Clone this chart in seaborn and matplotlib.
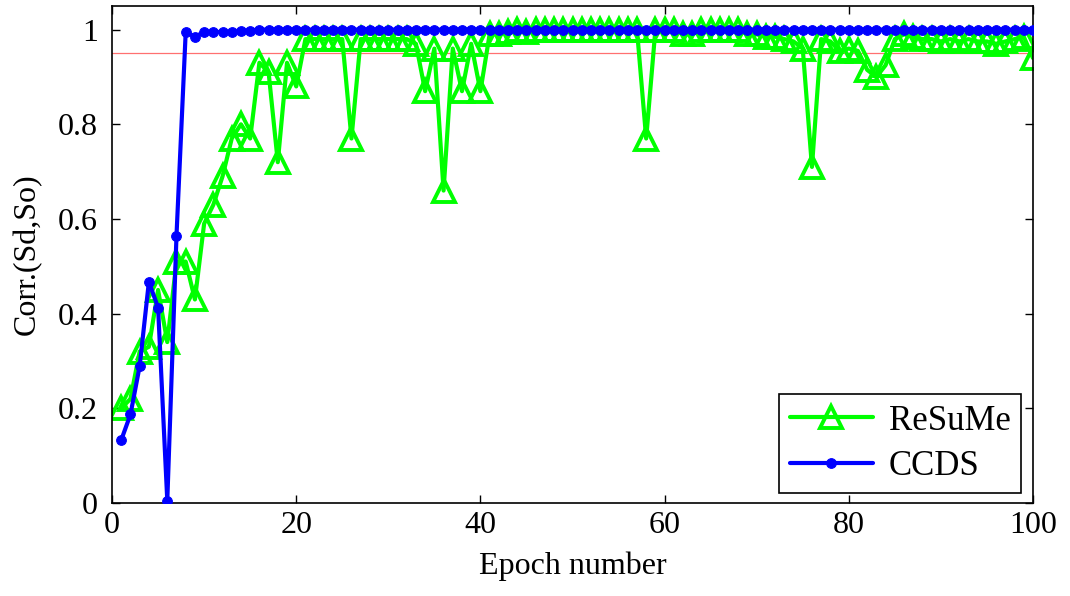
import numpy as np
import pandas as pd
import matplotlib
matplotlib.use("Agg")
import matplotlib.pyplot as plt
import seaborn as sns

epochs = list(range(1, 101))

resume = [
    0.20, 0.22, 0.32, 0.33, 0.45, 0.34, 0.51, 0.51, 0.43, 0.59,
    0.63, 0.69, 0.77, 0.80, 0.77, 0.93, 0.91, 0.72, 0.93, 0.88,
    0.98, 0.98, 0.98, 0.98, 0.98, 0.77, 0.98, 0.98, 0.98, 0.98,
    0.98, 0.98, 0.97, 0.87, 0.96, 0.66, 0.96, 0.87, 0.97, 0.87,
    0.99, 0.99, 0.995, 1.00, 0.995, 1.00, 1.00, 1.00, 1.00, 1.00,
    1.00, 1.00, 1.00, 1.00, 1.00, 1.00, 1.00, 0.77, 1.00, 1.00,
    1.00, 0.99, 0.99, 1.00, 1.00, 1.00, 1.00, 1.00, 0.99, 0.99,
    0.985, 0.985, 0.98, 0.975, 0.96, 0.71, 0.98, 0.975, 0.955, 0.96,
    0.955, 0.915, 0.90, 0.925, 0.98, 0.99, 0.985, 0.98, 0.98, 0.975,
    0.98, 0.975, 0.98, 0.975, 0.975, 0.97, 0.975, 0.98, 0.985, 0.94,
]

ccds = [
    0.133, 0.187, 0.289, 0.467, 0.413, 0.005, 0.565, 0.995, 0.985, 0.995,
    0.995, 0.995, 0.995, 0.997, 0.998,
] + [1.0] * 85

threshold = 0.95

x_ticks = [0, 20, 40, 60, 80, 100]
y_ticks = [0, 0.2, 0.4, 0.6, 0.8, 1.0]
y_tick_labels = ["0", "0.2", "0.4", "0.6", "0.8", "1"]

df = pd.DataFrame({"epoch": epochs, "ReSuMe": resume, "CCDS": ccds})

sns.set_style("ticks")
plt.rcParams["font.family"] = ["Liberation Serif", "DejaVu Serif"]
plt.rcParams["text.color"] = "black"
plt.rcParams["axes.labelcolor"] = "black"
plt.rcParams["xtick.color"] = "black"
plt.rcParams["ytick.color"] = "black"

fig = plt.figure(figsize=(10.70, 5.96), dpi=100)
ax = fig.add_axes([0.1047, 0.156, 0.8607, 0.834])

ax.axhline(threshold, color="#ff4040", lw=0.9, alpha=0.75, zorder=1)

sns.lineplot(data=df, x="epoch", y="ReSuMe", ax=ax, color="#00ff00",
             lw=3, marker="^", markersize=16, markerfacecolor="none",
             markeredgecolor="#00ff00", markeredgewidth=2.8, label="ReSuMe",
             zorder=2)
sns.lineplot(data=df, x="epoch", y="CCDS", ax=ax, color="#0000ff",
             lw=3, marker="o", markersize=7, markerfacecolor="#0000ff",
             markeredgecolor="#0000ff", label="CCDS", zorder=3)

ax.set_xlim(0, 100)
ax.set_ylim(0, 1.05)
ax.set_xticks(x_ticks)
ax.set_xticklabels([str(t) for t in x_ticks])
ax.set_yticks(y_ticks)
ax.set_yticklabels(y_tick_labels)

ax.tick_params(direction="in", length=6, width=1, top=True, right=True,
               labelsize=23, colors="black")
ax.tick_params(axis="y", pad=10)
ax.tick_params(axis="x", pad=6)
for sp in ax.spines.values():
    sp.set_visible(True)
    sp.set_color("black")
    sp.set_linewidth(1.2)

ax.set_xlabel("Epoch number", fontsize=23, labelpad=8)
ax.set_ylabel("Corr.(Sd,So)", fontsize=23, labelpad=12)

leg = ax.legend(loc="lower right", fontsize=25, frameon=True, fancybox=False,
                handlelength=2.4, borderpad=0.3, labelspacing=0.35,
                handletextpad=0.45, bbox_to_anchor=(0.987, 0.02),
                borderaxespad=0.0)
leg.get_frame().set_edgecolor("black")
leg.get_frame().set_linewidth(1.2)
leg.get_frame().set_alpha(1)
for h in leg.legend_handles:
    if h.get_marker() == "^":
        h.set_markersize(16)

fig.savefig("out.png", dpi=100)
